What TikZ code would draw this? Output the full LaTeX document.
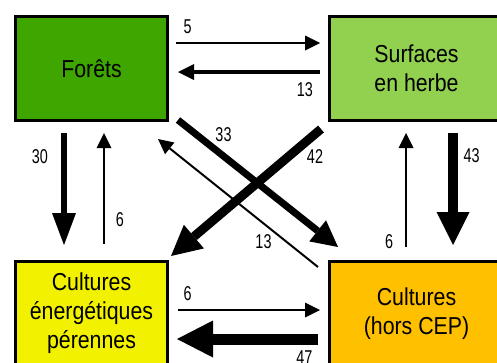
\documentclass[tikz,border=0pt]{standalone}
\usepackage{fontspec}
\setmainfont{Liberation Sans}
\newfontfamily\boxfont[FakeStretch=0.87]{Liberation Sans}
\newfontfamily\numfont[FakeStretch=0.72]{Liberation Sans}
\usetikzlibrary{positioning,arrows.meta}
\definecolor{ForestGreen}{RGB}{63,166,0}
\definecolor{GrassGreen}{RGB}{146,208,80}
\definecolor{CropYellow}{RGB}{242,242,0}
\definecolor{CropOrange}{RGB}{255,192,0}
\tikzset{
  land/.style={draw=black,line width=3pt,minimum height=104pt,inner sep=0pt,align=center,font=\boxfont\fontsize{24.5}{29}\selectfont},
  flow/.style n args={3}{line width=#1,-{Triangle[length=#2,width=#3,line width=0pt]}},
  num/.style={font=\numfont\fontsize{20}{22}\selectfont,inner sep=0pt},
}

\begin{document}
\begin{tikzpicture}[x=1pt,y=1pt]
  \useasboundingbox (0,0) rectangle (497,-362);
  \clip (0,0) rectangle (497,-362);
  \node[land,fill=ForestGreen,minimum width=152pt] (forets) at (91.5,-68.5) {Forêts};
  \node[land,fill=GrassGreen,minimum width=174pt,right=159pt of forets] (herbe) {Surfaces\\en herbe};
  \node[land,fill=CropYellow,minimum width=152pt,below=138pt of forets] (cep) {Cultures\\énergétiques\\pérennes};
  \node[land,fill=CropOrange,minimum width=174pt,below=138pt of herbe] (cultures) {Cultures\\(hors CEP)};
  % horizontal flows
  \draw[flow={1.2pt}{15pt}{15pt}] ([xshift=7pt,yshift=25.5pt]forets.east) -- ([xshift=-8pt,yshift=25.5pt]herbe.west)
    node[num,pos=0.08,yshift=16pt] (n5) {5};
  \draw[flow={3.5pt}{16pt}{16pt}] ([xshift=-8pt,yshift=-3.5pt]herbe.west) -- ([xshift=9pt,yshift=-3.5pt]forets.east)
    node[num,pos=0.106,yshift=-18pt] (n13a) {13};
  \draw[flow={1.2pt}{15pt}{15pt}] ([xshift=9pt,yshift=3.5pt]cep.east) -- ([xshift=-8pt,yshift=3.5pt]cultures.west)
    node[num,pos=0.067,yshift=16.5pt] (n6c) {6};
  \draw[flow={11pt}{36pt}{37pt}] ([xshift=-10pt,yshift=-25.5pt]cultures.west) -- ([xshift=8pt,yshift=-25.5pt]cep.east)
    node[num,pos=0.096,yshift=-19pt] (n47) {47};
  % vertical flows
  \draw[flow={6.5pt}{32pt}{24pt}] ([xshift=-27.5pt,yshift=-11pt]forets.south) -- ([xshift=-27.5pt,yshift=15pt]cep.north)
    node[num,pos=0.214,xshift=-24pt] (n30) {30};
  \draw[flow={1.2pt}{15pt}{15pt}] ([xshift=12.5pt,yshift=16pt]cep.north) -- ([xshift=12.5pt,yshift=-11pt]forets.south)
    node[num,pos=0.216,xshift=16pt] (n6a) {6};
  \draw[flow={1.2pt}{15pt}{15pt}] ([xshift=-10.5pt,yshift=13pt]cultures.north) -- ([xshift=-10.5pt,yshift=-11pt]herbe.south)
    node[num,pos=0.048,xshift=-17pt] (n6b) {6};
  \draw[flow={10pt}{33pt}{33pt}] ([xshift=36.5pt,yshift=-11pt]herbe.south) -- ([xshift=36.5pt,yshift=15pt]cultures.north)
    node[num,pos=0.2,xshift=18.5pt] (n43) {43};
  % diagonal flows
  \draw[flow={7pt}{26pt}{27pt}] ([xshift=9pt,yshift=2pt]forets.south east) -- ([xshift=10pt,yshift=13pt]cultures.north west)
    node[num,pos=0.22,xshift=10.3pt,yshift=13.4pt] (n33) {33};
  \draw[flow={9pt}{30pt}{31pt}] ([xshift=-7pt,yshift=-7pt]herbe.south west) -- ([xshift=2pt,yshift=4pt]cep.north east)
    node[num,pos=0.114,xshift=11.1pt,yshift=-13pt] (n42) {42};
  \draw[flow={2pt}{15pt}{15pt}] ([xshift=-10pt,yshift=-7pt]cultures.north west) -- ([xshift=-11pt,yshift=-17pt]forets.south east)
    node[num,pos=0.285,xshift=-8.9pt,yshift=-11pt] (n13b) {13};
\end{tikzpicture}
\end{document}
